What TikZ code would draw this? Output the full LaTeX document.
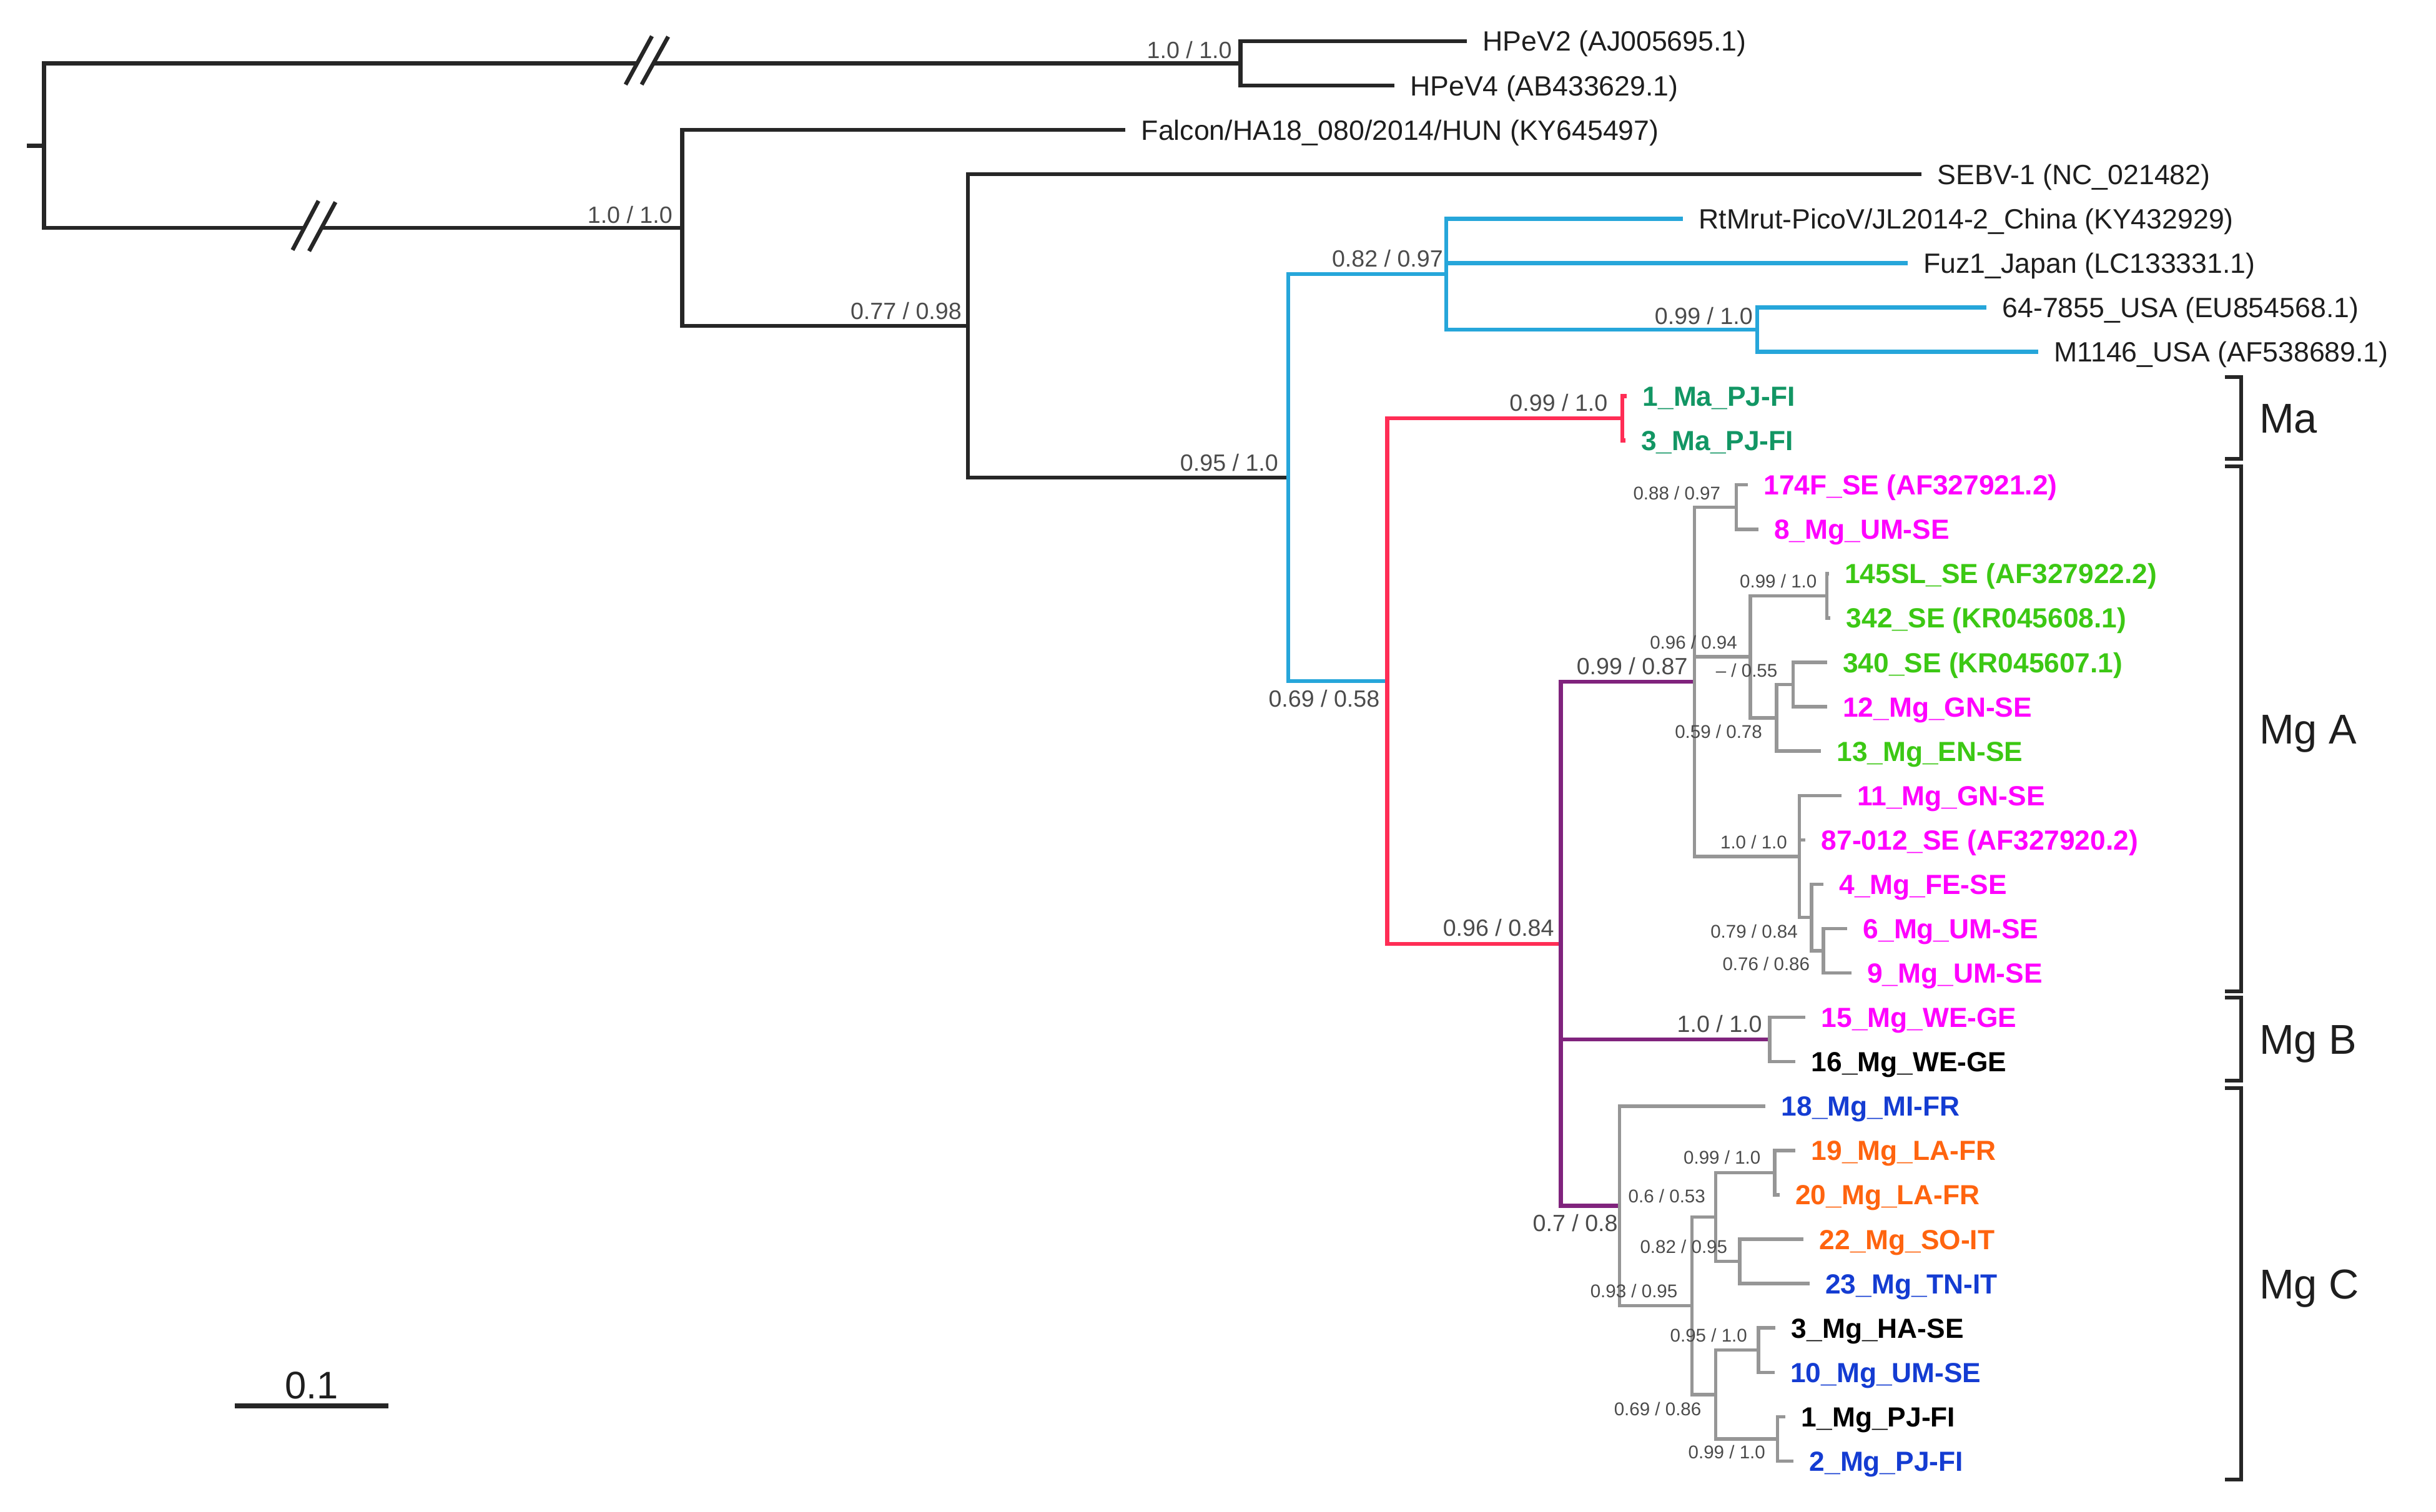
\documentclass[tikz,border=0pt]{standalone}
\usepackage{fontspec}
\setmainfont{Liberation Sans}
\definecolor{cBlue}{RGB}{38,166,218}
\definecolor{cRed}{RGB}{255,45,85}
\definecolor{cPurple}{RGB}{128,35,125}
\definecolor{cGray}{RGB}{150,150,150}
\definecolor{cBlack}{RGB}{38,38,38}
\definecolor{tMa}{RGB}{18,150,100}
\definecolor{tMag}{RGB}{255,0,255}
\definecolor{tGrn}{RGB}{60,200,20}
\definecolor{tBlu}{RGB}{20,60,210}
\definecolor{tOra}{RGB}{255,100,15}
\definecolor{tSup}{RGB}{75,75,75}
\definecolor{tBlk}{RGB}{30,30,30}
\tikzset{
  bk/.style={line width=0.065cm, draw=cBlack},
  bl/.style={line width=0.065cm, draw=cBlue},
  rd/.style={line width=0.065cm, draw=cRed},
  pu/.style={line width=0.065cm, draw=cPurple},
  gr/.style={line width=0.055cm, draw=cGray},
  leaf/.style={anchor=west, inner sep=0pt, xshift=0.25cm, text=tBlk,
    font=\fontsize{12.7}{14}\selectfont, text height=9.1pt, text depth=0pt},
  leafb/.style={leaf, font=\bfseries\fontsize{12.6}{14}\selectfont},
  sup/.style={anchor=south east, inner sep=0pt, text=tSup,
    font=\fontsize{10.7}{12}\selectfont, text height=7.7pt, text depth=0pt},
  sups/.style={sup, font=\fontsize{8.4}{10}\selectfont, text height=6pt},
  clade/.style={anchor=west, inner sep=0pt, text=tBlk,
    font=\fontsize{19}{21}\selectfont, text height=13.6pt, text depth=0pt},
  brack/.style={line width=0.06cm, draw=cBlack},
}
\begin{document}
\begin{tikzpicture}[x=0.025cm,y=-0.025cm]
\useasboundingbox (0,0) rectangle (1560.4,968.8);
% ---------- internal nodes ----------
\coordinate (nR) at (28.2,93.34);
\coordinate (stub) at (17.2,93.34);
\coordinate (nA) at (794.6,40.615);
\coordinate (nB) at (437,146.06);
\coordinate (nC) at (620,208.865);
\coordinate (nBlue) at (825.1,306.04);
\coordinate (nE) at (926.4,175.66);
\coordinate (nG) at (1125.6,211.195);
\coordinate (nRed) at (888.5,436.415);
\coordinate (nMa) at (1039.2,268.055);
\coordinate (nMg) at (999.8,604.775);
\coordinate (nMgA) at (1085.3,436.86);
\coordinate (n174) at (1112.2,324.915);
\coordinate (n096) at (1121.1,420.87);
\coordinate (n145) at (1170.2,381.775);
\coordinate (n13) at (1138,459.96);
\coordinate (n340) at (1148.6,438.635);
\coordinate (n11) at (1152.6,548.8);
\coordinate (n4) at (1160.3,587.89);
\coordinate (n69) at (1167.9,609.215);
\coordinate (nMgB) at (1133.5,666.075);
\coordinate (nMgC) at (1037.3,772.69);
\coordinate (n093) at (1083.7,836.655);
\coordinate (n082) at (1099,779.795);
\coordinate (n1920) at (1136.8,751.365);
\coordinate (n2223) at (1114.3,808.225);
\coordinate (n095) at (1099,893.515);
\coordinate (n310) at (1126.3,865.085);
\coordinate (n12) at (1138.6,921.945);
% break points
\coordinate (uA1) at (408.1,40.615);
\coordinate (uA2) at (418.4,40.615);
\coordinate (uB1) at (194.9,146.06);
\coordinate (uB2) at (206,146.06);
\coordinate (sA1a) at (400.7,54.2); \coordinate (sA1b) at (417.6,23.2);
\coordinate (sA2a) at (411,54.2);   \coordinate (sA2b) at (428,23.5);
\coordinate (sB1a) at (187.4,160.2); \coordinate (sB1b) at (204,128.7);
\coordinate (sB2a) at (198,160.9);   \coordinate (sB2b) at (214.9,129.5);
% ---------- tips ----------
\coordinate (t1) at (939.6,26.40);
\coordinate (t2) at (893,54.83);
\coordinate (t3) at (720.8,83.26);
\coordinate (t4) at (1230.8,111.69);
\coordinate (t5) at (1078,140.12);
\coordinate (t6) at (1221.9,168.55);
\coordinate (t7) at (1272.3,196.98);
\coordinate (t8) at (1305.5,225.41);
\coordinate (t9) at (1042,253.84);
\coordinate (t10) at (1041,282.27);
\coordinate (t11) at (1119.5,310.70);
\coordinate (t12) at (1126.2,339.13);
\coordinate (t13) at (1171.4,367.56);
\coordinate (t14) at (1172.5,395.99);
\coordinate (t15) at (1170.2,424.42);
\coordinate (t16) at (1170.2,452.85);
\coordinate (t17) at (1166.3,481.28);
\coordinate (t18) at (1179.4,509.71);
\coordinate (t19) at (1156.4,538.14);
\coordinate (t20) at (1167.9,566.57);
\coordinate (t21) at (1183.2,595.00);
\coordinate (t22) at (1185.8,623.43);
\coordinate (t23) at (1156.4,651.86);
\coordinate (t24) at (1150,680.29);
\coordinate (t25) at (1130.9,708.72);
\coordinate (t26) at (1150,737.15);
\coordinate (t27) at (1139.8,765.58);
\coordinate (t28) at (1155.2,794.01);
\coordinate (t29) at (1159,822.44);
\coordinate (t30) at (1137.3,850.87);
\coordinate (t31) at (1136.6,879.30);
\coordinate (t32) at (1143.7,907.73);
\coordinate (t33) at (1148.8,936.16);
% ---------- branches ----------
\draw[bk] (stub) -- (nR);
\draw[bk] (nR) |- (uA1);
\draw[bk] (uA2) -- (nA);
\draw[bk] (nR) |- (uB1);
\draw[bk] (uB2) -- (nB);
\draw[bk] (sA1a) -- (sA1b);
\draw[bk] (sA2a) -- (sA2b);
\draw[bk] (sB1a) -- (sB1b);
\draw[bk] (sB2a) -- (sB2b);
\draw[bk] (nA) |- (t1);
\draw[bk] (nA) |- (t2);
\draw[bk] (nB) |- (t3);
\draw[bk] (nB) |- (nC);
\draw[bk] (nC) |- (t4);
\draw[bk] (nC) |- (nBlue);
\draw[bl] (nBlue) |- (nE);
\draw[bl] (nBlue) |- (nRed);
\draw[bl] (nE) |- (t5);
\draw[bl] (nE) |- (t6);
\draw[bl] (nE) |- (nG);
\draw[bl] (nG) |- (t7);
\draw[bl] (nG) |- (t8);
\draw[rd] (nRed) |- (nMa);
\draw[rd] (nRed) |- (nMg);
\draw[rd] (nMa) |- (t9);
\draw[rd] (nMa) |- (t10);
\draw[pu] (nMg) |- (nMgA);
\draw[pu] (nMg) |- (nMgB);
\draw[pu] (nMg) |- (nMgC);
\draw[gr] (nMgA) |- (n174);
\draw[gr] (nMgA) |- (n096);
\draw[gr] (nMgA) |- (n11);
\draw[gr] (n174) |- (t11);
\draw[gr] (n174) |- (t12);
\draw[gr] (n096) |- (n145);
\draw[gr] (n096) |- (n13);
\draw[gr] (n145) |- (t13);
\draw[gr] (n145) |- (t14);
\draw[gr] (n13) |- (n340);
\draw[gr] (n13) |- (t17);
\draw[gr] (n340) |- (t15);
\draw[gr] (n340) |- (t16);
\draw[gr] (n11) |- (t18);
\draw[gr] (n11) |- (t19);
\draw[gr] (n11) |- (n4);
\draw[gr] (n4) |- (t20);
\draw[gr] (n4) |- (n69);
\draw[gr] (n69) |- (t21);
\draw[gr] (n69) |- (t22);
\draw[gr] (nMgB) |- (t23);
\draw[gr] (nMgB) |- (t24);
\draw[gr] (nMgC) |- (t25);
\draw[gr] (nMgC) |- (n093);
\draw[gr] (n093) |- (n082);
\draw[gr] (n093) |- (n095);
\draw[gr] (n082) |- (n1920);
\draw[gr] (n082) |- (n2223);
\draw[gr] (n1920) |- (t26);
\draw[gr] (n1920) |- (t27);
\draw[gr] (n2223) |- (t28);
\draw[gr] (n2223) |- (t29);
\draw[gr] (n095) |- (n310);
\draw[gr] (n095) |- (n12);
\draw[gr] (n310) |- (t30);
\draw[gr] (n310) |- (t31);
\draw[gr] (n12) |- (t32);
\draw[gr] (n12) |- (t33);
% ---------- leaf labels ----------
\node[leaf] (L1) at (t1) {HPeV2 (AJ005695.1)};
\node[leaf] (L2) at (t2) {HPeV4 (AB433629.1)};
\node[leaf] (L3) at (t3) {Falcon/HA18\_080/2014/HUN (KY645497)};
\node[leaf] (L4) at (t4) {SEBV-1 (NC\_021482)};
\node[leaf] (L5) at (t5) {RtMrut-PicoV/JL2014-2\_China (KY432929)};
\node[leaf] (L6) at (t6) {Fuz1\_Japan (LC133331.1)};
\node[leaf] (L7) at (t7) {64-7855\_USA (EU854568.1)};
\node[leaf] (L8) at (t8) {M1146\_USA (AF538689.1)};
\node[leafb, text=tMa] (L9) at (t9) {1\_Ma\_PJ-FI};
\node[leafb, text=tMa] (L10) at (t10) {3\_Ma\_PJ-FI};
\node[leafb, text=tMag] (L11) at (t11) {174F\_SE (AF327921.2)};
\node[leafb, text=tMag] (L12) at (t12) {8\_Mg\_UM-SE};
\node[leafb, text=tGrn] (L13) at (t13) {145SL\_SE (AF327922.2)};
\node[leafb, text=tGrn] (L14) at (t14) {342\_SE (KR045608.1)};
\node[leafb, text=tGrn] (L15) at (t15) {340\_SE (KR045607.1)};
\node[leafb, text=tMag] (L16) at (t16) {12\_Mg\_GN-SE};
\node[leafb, text=tGrn] (L17) at (t17) {13\_Mg\_EN-SE};
\node[leafb, text=tMag] (L18) at (t18) {11\_Mg\_GN-SE};
\node[leafb, text=tMag] (L19) at (t19) {87-012\_SE (AF327920.2)};
\node[leafb, text=tMag] (L20) at (t20) {4\_Mg\_FE-SE};
\node[leafb, text=tMag] (L21) at (t21) {6\_Mg\_UM-SE};
\node[leafb, text=tMag] (L22) at (t22) {9\_Mg\_UM-SE};
\node[leafb, text=tMag] (L23) at (t23) {15\_Mg\_WE-GE};
\node[leafb, text=black] (L24) at (t24) {16\_Mg\_WE-GE};
\node[leafb, text=tBlu] (L25) at (t25) {18\_Mg\_MI-FR};
\node[leafb, text=tOra] (L26) at (t26) {19\_Mg\_LA-FR};
\node[leafb, text=tOra] (L27) at (t27) {20\_Mg\_LA-FR};
\node[leafb, text=tOra] (L28) at (t28) {22\_Mg\_SO-IT};
\node[leafb, text=tBlu] (L29) at (t29) {23\_Mg\_TN-IT};
\node[leafb, text=black] (L30) at (t30) {3\_Mg\_HA-SE};
\node[leafb, text=tBlu] (L31) at (t31) {10\_Mg\_UM-SE};
\node[leafb, text=black] (L32) at (t32) {1\_Mg\_PJ-FI};
\node[leafb, text=tBlu] (L33) at (t33) {2\_Mg\_PJ-FI};
% ---------- support values ----------
\node[sup] (s1) at (789.3,37.5) {1.0 / 1.0};
\node[sup] (s2) at (431,143.1) {1.0 / 1.0};
\node[sup] (s3) at (616.2,205) {0.77 / 0.98};
\node[sup] (s4) at (819,302) {0.95 / 1.0};
\node[sup] (s5) at (924.6,171.4) {0.82 / 0.97};
\node[sup] (s6) at (1123,208.2) {0.99 / 1.0};
\node[sup] (s7) at (1030,263.8) {0.99 / 1.0};
\node[sup] (s8) at (884,453.1) {0.69 / 0.58};
\node[sup] (s9) at (1081.3,432.5) {0.99 / 0.87};
\node[sup] (s10) at (995.7,600.2) {0.96 / 0.84};
\node[sup] (s11) at (1128.9,661.8) {1.0 / 1.0};
\node[sup] (s12) at (1036.5,789.4) {0.7 / 0.8};
\node[sups] (m1) at (1102.3,320.6) {0.88 / 0.97};
\node[sups] (m2) at (1164,376.9) {0.99 / 1.0};
\node[sups] (m3) at (1113,416.2) {0.96 / 0.94};
\node[sups] (m4) at (1138.8,434) {-- / 0.55};
\node[sups] (m5) at (1129,473.3) {0.59 / 0.78};
\node[sups] (m6) at (1145,543.9) {1.0 / 1.0};
\node[sups] (m7) at (1151.8,601.3) {0.79 / 0.84};
\node[sups] (m8) at (1159.5,622) {0.76 / 0.86};
\node[sups] (m9) at (1128,745.9) {0.99 / 1.0};
\node[sups] (m10) at (1092.6,770.8) {0.6 / 0.53};
\node[sups] (m11) at (1106.7,803.1) {0.82 / 0.95};
\node[sups] (m12) at (1074.8,831.7) {0.93 / 0.95};
\node[sups] (m13) at (1119.4,860.2) {0.95 / 1.0};
\node[sups] (m14) at (1090,907.2) {0.69 / 0.86};
\node[sups] (m15) at (1131,934.9) {0.99 / 1.0};
% ---------- clade brackets ----------
\coordinate (bMa1) at (1425,241.5);   \coordinate (bMa2) at (1435.4,241.5);
\coordinate (bMa3) at (1435.4,294);   \coordinate (bMa4) at (1425,294);
\coordinate (bA1) at (1425,298.8);    \coordinate (bA2) at (1435.4,298.8);
\coordinate (bA3) at (1435.4,635);    \coordinate (bA4) at (1425,635);
\coordinate (bB1) at (1425,639);      \coordinate (bB2) at (1435.4,639);
\coordinate (bB3) at (1435.4,692.5);  \coordinate (bB4) at (1425,692.5);
\coordinate (bC1) at (1425,697);      \coordinate (bC2) at (1435.4,697);
\coordinate (bC3) at (1435.4,948);    \coordinate (bC4) at (1425,948);
\draw[brack] (bMa1) -- (bMa2) -- (bMa3) -- (bMa4);
\draw[brack] (bA1) -- (bA2) -- (bA3) -- (bA4);
\draw[brack] (bB1) -- (bB2) -- (bB3) -- (bB4);
\draw[brack] (bC1) -- (bC2) -- (bC3) -- (bC4);
\node[clade] (kMa) at (1447,267.75) {Ma};
\node[clade] (kA) at (1447,466.9) {Mg A};
\node[clade] (kB) at (1447,665.75) {Mg B};
\node[clade] (kC) at (1447,822.5) {Mg C};
% ---------- scale bar ----------
\coordinate (sb1) at (150.5,900.7);
\coordinate (sb2) at (248.7,900.7);
\draw[line width=0.075cm, draw=cBlack] (sb1) -- (sb2);
\node[anchor=base, inner sep=0pt, text=tBlk, font=\fontsize{17.5}{19}\selectfont] (sbl) at (199.6,896) {0.1};
\end{tikzpicture}
\end{document}
